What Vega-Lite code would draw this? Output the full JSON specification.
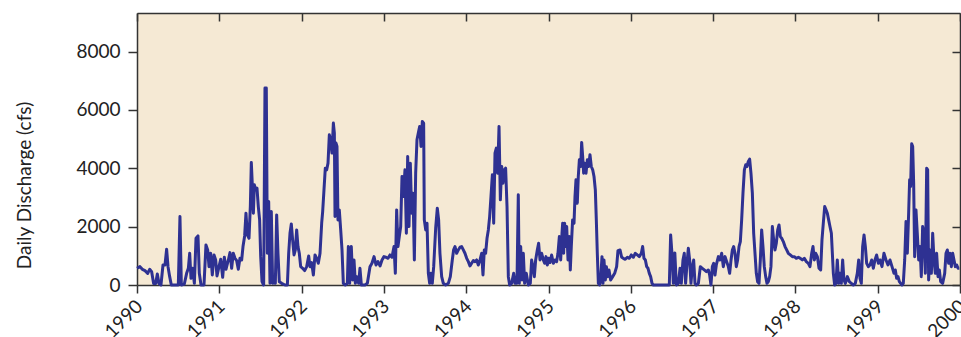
{
  "$schema": "https://vega.github.io/schema/vega-lite/v6.json",
  "width": 823,
  "height": 272,
  "autosize": "none",
  "padding": {"left": 137, "top": 13, "right": 1, "bottom": 52},
  "background": "white",
  "config": {
    "view": {"stroke": null, "fill": "#f5e9d4"},
    "font": "Lato",
    "axis": {"grid": false, "domainColor": "#333333", "domainWidth": 1.5, "tickColor": "#333333", "tickWidth": 1.5, "labelColor": "#222222", "titleColor": "#222222", "labelFont": "Lato", "titleFont": "Lato"}
  },
  "data": {"values": [
{"t":1990.000,"v":572},{"t":1990.036,"v":629},{"t":1990.065,"v":538},{"t":1990.097,"v":492},{"t":1990.130,"v":400},{"t":1990.154,"v":538},{"t":1990.178,"v":458},{"t":1990.202,"v":50},{"t":1990.227,"v":50},{"t":1990.247,"v":378},{"t":1990.267,"v":50},{"t":1990.291,"v":0},{"t":1990.316,"v":686},{"t":1990.340,"v":686},{"t":1990.360,"v":1224},{"t":1990.377,"v":629},{"t":1990.397,"v":286},{"t":1990.417,"v":0},{"t":1990.502,"v":0},{"t":1990.522,"v":2345},{"t":1990.539,"v":0},{"t":1990.575,"v":34},{"t":1990.603,"v":400},{"t":1990.624,"v":572},{"t":1990.640,"v":1087},{"t":1990.656,"v":229},{"t":1990.676,"v":572},{"t":1990.697,"v":57},{"t":1990.717,"v":1602},{"t":1990.741,"v":1682},{"t":1990.757,"v":400},{"t":1990.778,"v":0},{"t":1990.814,"v":0},{"t":1990.838,"v":1373},{"t":1990.859,"v":1201},{"t":1990.875,"v":629},{"t":1990.895,"v":1087},{"t":1990.915,"v":343},{"t":1990.936,"v":1030},{"t":1990.956,"v":858},{"t":1990.972,"v":309},{"t":1990.996,"v":629},
{"t":1991.017,"v":881},{"t":1991.041,"v":263},{"t":1991.061,"v":950},{"t":1991.081,"v":538},{"t":1991.110,"v":858},{"t":1991.130,"v":1110},{"t":1991.150,"v":572},{"t":1991.170,"v":1087},{"t":1991.191,"v":915},{"t":1991.211,"v":835},{"t":1991.231,"v":538},{"t":1991.251,"v":915},{"t":1991.272,"v":858},{"t":1991.288,"v":1316},{"t":1991.308,"v":1682},{"t":1991.324,"v":2460},{"t":1991.341,"v":1716},{"t":1991.361,"v":1602},{"t":1991.377,"v":2688},{"t":1991.389,"v":4198},{"t":1991.401,"v":3432},{"t":1991.414,"v":2460},{"t":1991.426,"v":3432},{"t":1991.442,"v":3260},{"t":1991.458,"v":3318},{"t":1991.474,"v":2688},{"t":1991.490,"v":2231},{"t":1991.503,"v":972},{"t":1991.519,"v":114},{"t":1991.539,"v":0},{"t":1991.555,"v":6750},{"t":1991.571,"v":6750},{"t":1991.584,"v":1087},{"t":1991.600,"v":2860},{"t":1991.616,"v":57},{"t":1991.632,"v":2517},{"t":1991.648,"v":57},{"t":1991.665,"v":286},{"t":1991.681,"v":57},{"t":1991.697,"v":2402},{"t":1991.713,"v":1087},{"t":1991.729,"v":114},{"t":1991.758,"v":57},{"t":1991.798,"v":0},{"t":1991.827,"v":0},{"t":1991.843,"v":1087},{"t":1991.859,"v":1773},{"t":1991.875,"v":2094},{"t":1991.891,"v":1544},{"t":1991.908,"v":1030},{"t":1991.924,"v":1201},{"t":1991.940,"v":1888},{"t":1991.956,"v":1316},{"t":1991.972,"v":1087},{"t":1991.989,"v":629},
{"t":1992.013,"v":572},{"t":1992.037,"v":492},{"t":1992.062,"v":629},{"t":1992.086,"v":995},{"t":1992.102,"v":629},{"t":1992.122,"v":766},{"t":1992.143,"v":343},{"t":1992.163,"v":1030},{"t":1992.183,"v":915},{"t":1992.203,"v":744},{"t":1992.224,"v":1087},{"t":1992.244,"v":2116},{"t":1992.256,"v":2517},{"t":1992.272,"v":3260},{"t":1992.288,"v":4004},{"t":1992.305,"v":3947},{"t":1992.321,"v":4175},{"t":1992.337,"v":5148},{"t":1992.353,"v":4976},{"t":1992.369,"v":4519},{"t":1992.386,"v":5548},{"t":1992.398,"v":5205},{"t":1992.406,"v":2345},{"t":1992.418,"v":4862},{"t":1992.430,"v":4748},{"t":1992.442,"v":2231},{"t":1992.458,"v":2574},{"t":1992.475,"v":1888},{"t":1992.491,"v":1201},{"t":1992.507,"v":57},{"t":1992.531,"v":0},{"t":1992.556,"v":57},{"t":1992.568,"v":1316},{"t":1992.584,"v":57},{"t":1992.604,"v":1316},{"t":1992.620,"v":172},{"t":1992.637,"v":858},{"t":1992.653,"v":57},{"t":1992.669,"v":286},{"t":1992.693,"v":57},{"t":1992.709,"v":572},{"t":1992.726,"v":0},{"t":1992.770,"v":0},{"t":1992.799,"v":57},{"t":1992.831,"v":629},{"t":1992.855,"v":744},{"t":1992.880,"v":972},{"t":1992.904,"v":686},{"t":1992.928,"v":801},{"t":1992.953,"v":652},{"t":1992.977,"v":858},
{"t":1993.001,"v":972},{"t":1993.025,"v":950},{"t":1993.050,"v":915},{"t":1993.074,"v":1030},{"t":1993.098,"v":950},{"t":1993.123,"v":1316},{"t":1993.139,"v":400},{"t":1993.155,"v":2574},{"t":1993.171,"v":1316},{"t":1993.187,"v":1659},{"t":1993.204,"v":2002},{"t":1993.220,"v":3718},{"t":1993.236,"v":3032},{"t":1993.256,"v":3947},{"t":1993.273,"v":1773},{"t":1993.289,"v":4404},{"t":1993.305,"v":2002},{"t":1993.321,"v":4175},{"t":1993.337,"v":2460},{"t":1993.354,"v":3146},{"t":1993.370,"v":858},{"t":1993.386,"v":3832},{"t":1993.402,"v":4976},{"t":1993.418,"v":5205},{"t":1993.435,"v":5434},{"t":1993.451,"v":4748},{"t":1993.467,"v":5606},{"t":1993.483,"v":5548},{"t":1993.491,"v":2231},{"t":1993.508,"v":1888},{"t":1993.524,"v":2116},{"t":1993.540,"v":400},{"t":1993.556,"v":57},{"t":1993.572,"v":400},{"t":1993.588,"v":57},{"t":1993.605,"v":629},{"t":1993.629,"v":1945},{"t":1993.649,"v":2631},{"t":1993.665,"v":2231},{"t":1993.681,"v":1087},{"t":1993.702,"v":286},{"t":1993.722,"v":57},{"t":1993.750,"v":0},{"t":1993.783,"v":57},{"t":1993.807,"v":286},{"t":1993.831,"v":858},{"t":1993.847,"v":1201},{"t":1993.864,"v":1316},{"t":1993.884,"v":1087},{"t":1993.904,"v":1201},{"t":1993.925,"v":1293},{"t":1993.945,"v":1316},{"t":1993.965,"v":1201},{"t":1993.985,"v":1087},
{"t":1994.006,"v":915},{"t":1994.026,"v":801},{"t":1994.046,"v":652},{"t":1994.066,"v":744},{"t":1994.087,"v":835},{"t":1994.107,"v":801},{"t":1994.127,"v":858},{"t":1994.147,"v":686},{"t":1994.168,"v":858},{"t":1994.188,"v":1087},{"t":1994.204,"v":343},{"t":1994.220,"v":1201},{"t":1994.236,"v":1087},{"t":1994.253,"v":1602},{"t":1994.269,"v":1888},{"t":1994.285,"v":2345},{"t":1994.301,"v":3032},{"t":1994.318,"v":3775},{"t":1994.334,"v":2116},{"t":1994.350,"v":4519},{"t":1994.366,"v":4690},{"t":1994.382,"v":3832},{"t":1994.399,"v":5434},{"t":1994.415,"v":2917},{"t":1994.431,"v":4061},{"t":1994.447,"v":3489},{"t":1994.463,"v":3947},{"t":1994.479,"v":4004},{"t":1994.496,"v":2688},{"t":1994.512,"v":286},{"t":1994.528,"v":0},{"t":1994.552,"v":57},{"t":1994.577,"v":400},{"t":1994.593,"v":57},{"t":1994.617,"v":57},{"t":1994.633,"v":3089},{"t":1994.645,"v":57},{"t":1994.662,"v":1316},{"t":1994.678,"v":172},{"t":1994.694,"v":1087},{"t":1994.710,"v":57},{"t":1994.730,"v":400},{"t":1994.755,"v":0},{"t":1994.779,"v":57},{"t":1994.795,"v":858},{"t":1994.811,"v":629},{"t":1994.828,"v":286},{"t":1994.844,"v":858},{"t":1994.864,"v":1201},{"t":1994.880,"v":1430},{"t":1994.897,"v":858},{"t":1994.917,"v":1087},{"t":1994.937,"v":858},{"t":1994.953,"v":744},{"t":1994.970,"v":972},{"t":1994.986,"v":686},
{"t":1995.002,"v":915},{"t":1995.018,"v":766},{"t":1995.038,"v":1030},{"t":1995.059,"v":744},{"t":1995.079,"v":858},{"t":1995.099,"v":801},{"t":1995.115,"v":1087},{"t":1995.132,"v":1659},{"t":1995.148,"v":858},{"t":1995.164,"v":1773},{"t":1995.172,"v":2116},{"t":1995.184,"v":1087},{"t":1995.196,"v":2116},{"t":1995.208,"v":1316},{"t":1995.221,"v":2002},{"t":1995.237,"v":858},{"t":1995.253,"v":1659},{"t":1995.265,"v":515},{"t":1995.277,"v":1316},{"t":1995.293,"v":2231},{"t":1995.310,"v":2116},{"t":1995.322,"v":3032},{"t":1995.334,"v":3604},{"t":1995.350,"v":2803},{"t":1995.362,"v":3718},{"t":1995.375,"v":4290},{"t":1995.391,"v":4061},{"t":1995.403,"v":4885},{"t":1995.415,"v":4404},{"t":1995.427,"v":3832},{"t":1995.440,"v":4175},{"t":1995.456,"v":3832},{"t":1995.472,"v":4290},{"t":1995.488,"v":4061},{"t":1995.504,"v":4462},{"t":1995.520,"v":4061},{"t":1995.537,"v":3947},{"t":1995.553,"v":3718},{"t":1995.569,"v":3260},{"t":1995.581,"v":2231},{"t":1995.593,"v":1087},{"t":1995.606,"v":57},{"t":1995.622,"v":0},{"t":1995.638,"v":400},{"t":1995.650,"v":972},{"t":1995.662,"v":57},{"t":1995.674,"v":858},{"t":1995.691,"v":172},{"t":1995.703,"v":629},{"t":1995.719,"v":286},{"t":1995.735,"v":515},{"t":1995.755,"v":172},{"t":1995.780,"v":286},{"t":1995.804,"v":400},{"t":1995.828,"v":629},{"t":1995.844,"v":1178},{"t":1995.869,"v":1201},{"t":1995.889,"v":950},{"t":1995.909,"v":915},{"t":1995.933,"v":881},{"t":1995.958,"v":950},{"t":1995.982,"v":915},
{"t":1996.006,"v":1030},{"t":1996.031,"v":950},{"t":1996.055,"v":1087},{"t":1996.079,"v":1030},{"t":1996.103,"v":972},{"t":1996.128,"v":1087},{"t":1996.144,"v":1316},{"t":1996.160,"v":915},{"t":1996.177,"v":858},{"t":1996.193,"v":629},{"t":1996.209,"v":572},{"t":1996.225,"v":400},{"t":1996.241,"v":286},{"t":1996.258,"v":57},{"t":1996.274,"v":0},{"t":1996.468,"v":0},{"t":1996.484,"v":1716},{"t":1996.500,"v":1087},{"t":1996.517,"v":57},{"t":1996.535,"v":1100},{"t":1996.553,"v":0},{"t":1996.578,"v":57},{"t":1996.598,"v":572},{"t":1996.614,"v":57},{"t":1996.634,"v":858},{"t":1996.650,"v":1087},{"t":1996.666,"v":57},{"t":1996.683,"v":744},{"t":1996.699,"v":1258},{"t":1996.715,"v":858},{"t":1996.731,"v":57},{"t":1996.748,"v":629},{"t":1996.764,"v":858},{"t":1996.780,"v":57},{"t":1996.796,"v":0},{"t":1996.821,"v":57},{"t":1996.845,"v":629},{"t":1996.869,"v":572},{"t":1996.893,"v":515},{"t":1996.918,"v":458},{"t":1996.942,"v":515},{"t":1996.958,"v":343},{"t":1996.974,"v":0},{"t":1996.991,"v":629},
{"t":1997.007,"v":744},{"t":1997.023,"v":343},{"t":1997.039,"v":686},{"t":1997.064,"v":972},{"t":1997.084,"v":858},{"t":1997.104,"v":1087},{"t":1997.124,"v":629},{"t":1997.145,"v":972},{"t":1997.165,"v":801},{"t":1997.185,"v":629},{"t":1997.201,"v":400},{"t":1997.218,"v":858},{"t":1997.234,"v":1201},{"t":1997.250,"v":1316},{"t":1997.266,"v":1087},{"t":1997.282,"v":629},{"t":1997.298,"v":858},{"t":1997.315,"v":1316},{"t":1997.331,"v":1487},{"t":1997.347,"v":2231},{"t":1997.363,"v":3146},{"t":1997.380,"v":3947},{"t":1997.396,"v":4118},{"t":1997.412,"v":4061},{"t":1997.428,"v":4233},{"t":1997.444,"v":4313},{"t":1997.460,"v":3832},{"t":1997.477,"v":3146},{"t":1997.493,"v":1773},{"t":1997.509,"v":1087},{"t":1997.525,"v":400},{"t":1997.541,"v":114},{"t":1997.558,"v":57},{"t":1997.574,"v":858},{"t":1997.590,"v":1888},{"t":1997.606,"v":1316},{"t":1997.622,"v":629},{"t":1997.639,"v":286},{"t":1997.655,"v":57},{"t":1997.671,"v":114},{"t":1997.687,"v":286},{"t":1997.703,"v":629},{"t":1997.720,"v":2002},{"t":1997.736,"v":1544},{"t":1997.752,"v":1201},{"t":1997.768,"v":1430},{"t":1997.785,"v":1888},{"t":1997.801,"v":2059},{"t":1997.817,"v":1659},{"t":1997.833,"v":1602},{"t":1997.853,"v":1487},{"t":1997.874,"v":1316},{"t":1997.894,"v":1201},{"t":1997.914,"v":1087},{"t":1997.938,"v":1030},{"t":1997.963,"v":972},{"t":1997.987,"v":972},
{"t":1998.011,"v":915},{"t":1998.036,"v":950},{"t":1998.060,"v":915},{"t":1998.084,"v":858},{"t":1998.108,"v":915},{"t":1998.133,"v":801},{"t":1998.157,"v":744},{"t":1998.177,"v":629},{"t":1998.198,"v":1087},{"t":1998.214,"v":1316},{"t":1998.230,"v":858},{"t":1998.246,"v":1087},{"t":1998.267,"v":972},{"t":1998.287,"v":572},{"t":1998.307,"v":515},{"t":1998.323,"v":1544},{"t":1998.339,"v":2116},{"t":1998.356,"v":2688},{"t":1998.372,"v":2574},{"t":1998.388,"v":2460},{"t":1998.404,"v":2231},{"t":1998.420,"v":2002},{"t":1998.437,"v":1773},{"t":1998.449,"v":1087},{"t":1998.461,"v":400},{"t":1998.477,"v":0},{"t":1998.493,"v":57},{"t":1998.509,"v":858},{"t":1998.526,"v":57},{"t":1998.542,"v":400},{"t":1998.558,"v":57},{"t":1998.574,"v":858},{"t":1998.590,"v":172},{"t":1998.607,"v":57},{"t":1998.631,"v":286},{"t":1998.655,"v":114},{"t":1998.680,"v":57},{"t":1998.704,"v":0},{"t":1998.728,"v":57},{"t":1998.752,"v":400},{"t":1998.769,"v":858},{"t":1998.785,"v":229},{"t":1998.801,"v":57},{"t":1998.817,"v":1316},{"t":1998.834,"v":1716},{"t":1998.850,"v":1316},{"t":1998.866,"v":744},{"t":1998.886,"v":629},{"t":1998.906,"v":686},{"t":1998.927,"v":858},{"t":1998.947,"v":572},{"t":1998.967,"v":858},{"t":1998.987,"v":1030},
{"t":1999.008,"v":744},{"t":1999.028,"v":858},{"t":1999.052,"v":629},{"t":1999.076,"v":1087},{"t":1999.101,"v":858},{"t":1999.125,"v":686},{"t":1999.149,"v":858},{"t":1999.174,"v":629},{"t":1999.198,"v":400},{"t":1999.214,"v":515},{"t":1999.230,"v":229},{"t":1999.247,"v":286},{"t":1999.263,"v":114},{"t":1999.279,"v":57},{"t":1999.295,"v":0},{"t":1999.311,"v":57},{"t":1999.328,"v":858},{"t":1999.344,"v":2174},{"t":1999.360,"v":1087},{"t":1999.376,"v":2460},{"t":1999.388,"v":3604},{"t":1999.400,"v":3375},{"t":1999.413,"v":4839},{"t":1999.425,"v":4748},{"t":1999.437,"v":3489},{"t":1999.449,"v":972},{"t":1999.465,"v":2574},{"t":1999.481,"v":1773},{"t":1999.498,"v":858},{"t":1999.514,"v":1316},{"t":1999.530,"v":286},{"t":1999.546,"v":2002},{"t":1999.562,"v":1773},{"t":1999.579,"v":400},{"t":1999.595,"v":4004},{"t":1999.607,"v":3947},{"t":1999.619,"v":172},{"t":1999.635,"v":1201},{"t":1999.652,"v":400},{"t":1999.668,"v":1773},{"t":1999.684,"v":858},{"t":1999.700,"v":400},{"t":1999.716,"v":1087},{"t":1999.733,"v":286},{"t":1999.749,"v":515},{"t":1999.765,"v":114},{"t":1999.789,"v":57},{"t":1999.814,"v":400},{"t":1999.830,"v":1087},{"t":1999.846,"v":1201},{"t":1999.862,"v":744},{"t":1999.878,"v":1087},{"t":1999.895,"v":629},{"t":1999.911,"v":1087},{"t":1999.927,"v":858},{"t":1999.943,"v":629},{"t":1999.960,"v":686},{"t":1999.976,"v":572},{"t":1999.992,"v":572}
  ]},
  "layer": [
    {
      "mark": {"type": "line", "color": "#2e3192", "strokeWidth": 3, "clip": false, "strokeJoin": "round"},
      "encoding": {
        "x": {"field": "t", "type": "quantitative", "scale": {"domain": [1990, 2000], "nice": false, "zero": false},
          "axis": {"orient": "bottom", "title": null, "values": [1990,1991,1992,1993,1994,1995,1996,1997,1998,1999,2000], "format": "d", "labelAngle": -45, "labelAlign": "right", "labelBaseline": "middle", "labelFontSize": 19, "labelPadding": 10, "labelOffset": 2, "tickSize": 8, "labelFlush": false, "labelOverlap": false}},
        "y": {"field": "v", "type": "quantitative", "scale": {"domain": [0, 9320], "nice": false},
          "axis": {"orient": "left", "title": "Daily Discharge (cfs)", "values": [0,2000,4000,6000,8000], "format": "d", "labelFontSize": 19, "labelPadding": 8, "tickSize": 9, "titleFontSize": 19, "titleFontWeight": "normal", "titleX": -107, "titleY": 172, "titleAngle": -90, "titleAlign": "center", "titleBaseline": "alphabetic", "labelFlush": false}}
      }
    },
    {
      "mark": {"type": "line", "opacity": 0},
      "encoding": {
        "x": {"field": "t", "type": "quantitative", "axis": {"orient": "top", "title": null, "labels": false, "tickSize": -8, "values": [1990,1991,1992,1993,1994,1995,1996,1997,1998,1999,2000]}},
        "y": {"field": "v", "type": "quantitative", "axis": {"orient": "right", "title": null, "labels": false, "tickSize": -8, "values": [0,2000,4000,6000,8000]}}
      }
    }
  ],
  "resolve": {"axis": {"x": "independent", "y": "independent"}}
}
